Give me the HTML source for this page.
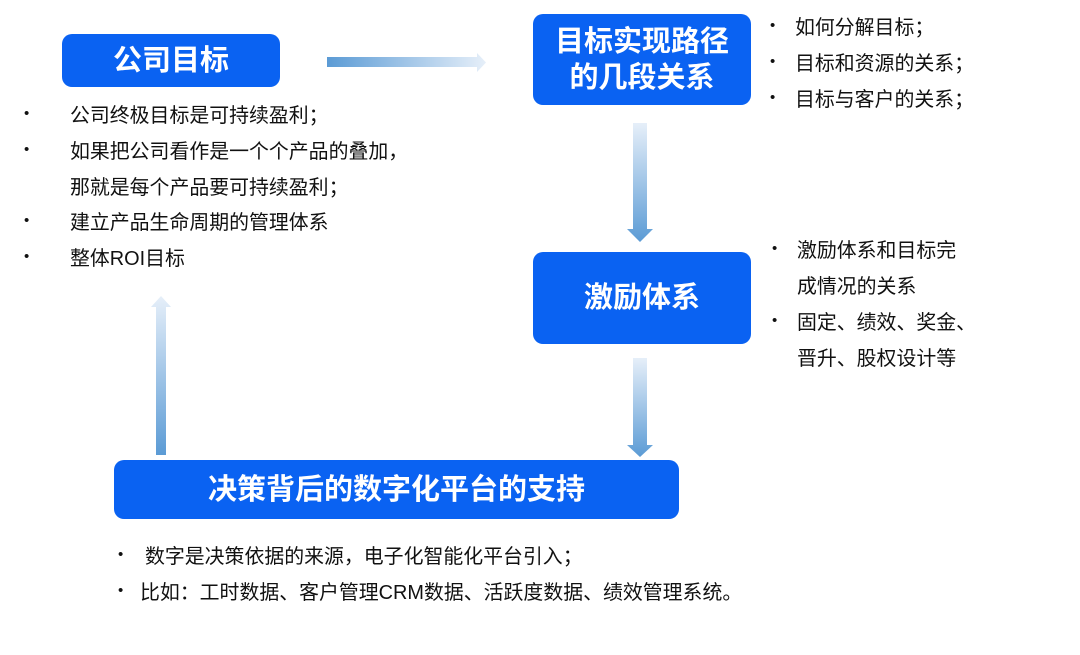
<!DOCTYPE html>
<html><head><meta charset="utf-8"><style>
body{margin:0;width:1080px;height:655px;background:#fff;position:relative;overflow:hidden;font-family:"Liberation Sans","Noto Sans CJK SC",sans-serif;}
.box{position:absolute;background:#0a62f2;border-radius:10px;color:#fff;font-weight:bold;display:flex;align-items:center;justify-content:center;text-align:center;font-size:29px;line-height:36px;}
.t{position:absolute;font-size:19.9px;color:#111;white-space:nowrap;line-height:22px;}
.b{position:absolute;font-size:15px;color:#111;}
svg{position:absolute;left:0;top:0;}
</style></head><body>
<svg width="1080" height="655">
<defs>
<linearGradient id="gh" x1="0" x2="1" y1="0" y2="0"><stop offset="0" stop-color="#5b9bd5"/><stop offset="1" stop-color="#e6eff9"/></linearGradient>
<linearGradient id="gv" x1="0" x2="0" y1="0" y2="1"><stop offset="0" stop-color="#e6eff9"/><stop offset="1" stop-color="#5b9bd5"/></linearGradient>
<linearGradient id="gu" x1="0" x2="0" y1="1" y2="0"><stop offset="0" stop-color="#5b9bd5"/><stop offset="1" stop-color="#e6eff9"/></linearGradient>
</defs>
<polygon points="327,57 477,57 477,53 486,62.5 477,72 477,67 327,67" fill="url(#gh)"/>
<polygon points="633,123 647,123 647,229 653,229 640,242 627,229 633,229" fill="url(#gv)"/>
<polygon points="633,358 647,358 647,445 653,445 640,457 627,445 633,445" fill="url(#gv)"/>
<polygon points="156,455 166,455 166,307 171,307 161,296 151,307 156,307" fill="url(#gu)"/>
</svg>
<div class="box" style="left:62px;top:34px;width:218px;height:53px;">公司目标</div>
<div class="box" style="left:533px;top:14px;width:218px;height:91px;">目标实现路径<br>的几段关系</div>
<div class="box" style="left:533px;top:252px;width:218px;height:92px;">激励体系</div>
<div class="box" style="left:114px;top:460px;width:565px;height:59px;">决策背后的数字化平台的支持</div>

<div class="b" style="left:770px;top:17px">•</div><div class="t" style="left:795px;top:17px">如何分解目标；</div>
<div class="b" style="left:770px;top:53px">•</div><div class="t" style="left:795px;top:53px">目标和资源的关系；</div>
<div class="b" style="left:770px;top:89px">•</div><div class="t" style="left:795px;top:89px">目标与客户的关系；</div>

<div class="b" style="left:772px;top:240px">•</div><div class="t" style="left:797px;top:240px">激励体系和目标完</div>
<div class="t" style="left:797px;top:276px">成情况的关系</div>
<div class="b" style="left:772px;top:312px">•</div><div class="t" style="left:797px;top:312px">固定、绩效、奖金、</div>
<div class="t" style="left:797px;top:348px">晋升、股权设计等</div>

<div class="b" style="left:24px;top:105px">•</div><div class="t" style="left:70px;top:105px">公司终极目标是可持续盈利；</div>
<div class="b" style="left:24px;top:141px">•</div><div class="t" style="left:70px;top:141px">如果把公司看作是一个个产品的叠加，</div>
<div class="t" style="left:70px;top:177px">那就是每个产品要可持续盈利；</div>
<div class="b" style="left:24px;top:212px">•</div><div class="t" style="left:70px;top:212px">建立产品生命周期的管理体系</div>
<div class="b" style="left:24px;top:248px">•</div><div class="t" style="left:70px;top:248px">整体ROI目标</div>

<div class="b" style="left:118px;top:546px">•</div><div class="t" style="left:145px;top:546px">数字是决策依据的来源，电子化智能化平台引入；</div>
<div class="b" style="left:118px;top:582px">•</div><div class="t" style="left:140px;top:582px">比如：工时数据、客户管理CRM数据、活跃度数据、绩效管理系统。</div>
</body></html>
